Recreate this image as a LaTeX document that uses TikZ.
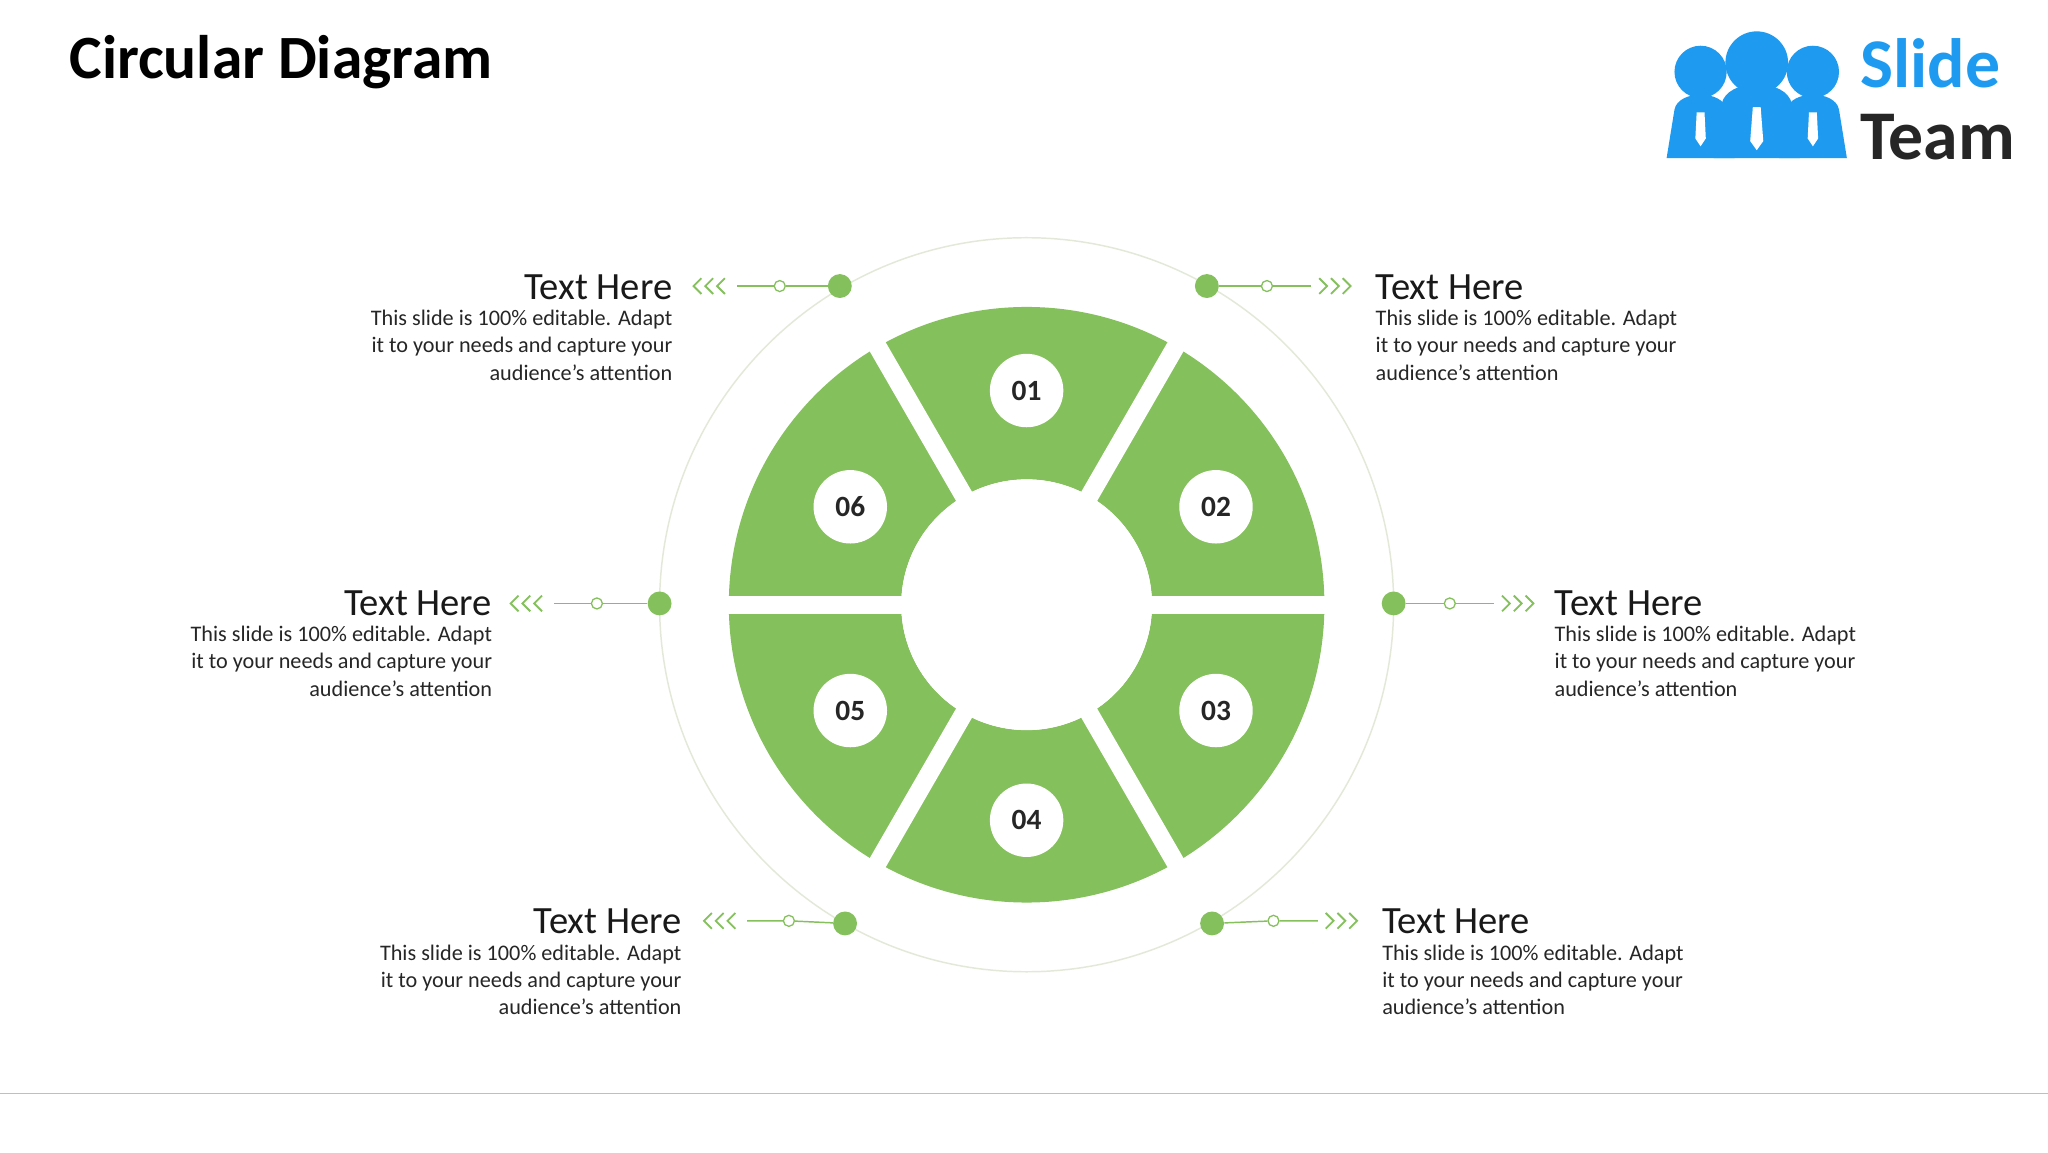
\documentclass[tikz,border=0pt]{standalone}
\usepackage{fontspec}
\usetikzlibrary{calc}
\setmainfont{Carlito}
\definecolor{gr}{HTML}{84C05B}
\definecolor{ring}{HTML}{E3E9D8}
\definecolor{sb}{HTML}{1E9BF0}
\tikzset{
 head/.style={font=\fontsize{21}{24}\selectfont, text=black!90, inner sep=0},
 bodyl/.style={font=\fontsize{12.1}{14}\selectfont, text=black!85, inner sep=0},
 num/.style={circle, fill=white, minimum size=40pt, inner sep=0, font=\fontsize{16}{18}\selectfont\bfseries, text=black!85},
 dot/.style={circle, fill=gr, minimum size=13pt, inner sep=0},
 odot/.style={circle, draw=gr, fill=white, line width=0.7pt, minimum size=6pt, inner sep=0},
 conn/.style={gr, line width=0.8pt},
 chev/.style={gr, line width=1pt},
}
\newcommand{\chevs}[4]{% leftmost-tip-x y dir(1 right,-1 left) name
 \foreach \k in {0,1,2}{\draw[chev] ({#1+\k*9-6*#3},{#2-6}) -- ({#1+\k*9},{#2}) -- ({#1+\k*9-6*#3},{#2+6});}
 \coordinate (#4) at (#1,#2);}
\newcommand{\bodytxt}[4]{% x y anchor name
 \node[bodyl, anchor=#3] (#4a) at (#1,#2) {This slide is 100\% editable. Adapt};
 \node[bodyl, anchor=#3] (#4b) at (#1,{#2+21}) {it to your needs and capture your};
 \node[bodyl, anchor=#3] (#4c) at (#1,{#2+42}) {audience's attention};}
\begin{document}
\begin{tikzpicture}[x=0.25mm,y=-0.25mm]
\useasboundingbox (0,0) rectangle (1568,882);
\fill[white] (0,0) rectangle (1568,882);
\node[anchor=base west, inner sep=0, font=\fontsize{33.5}{36}\selectfont\bfseries] (title) at (53,60) {Circular Diagram};
% logo
\begin{scope}[sb]
 \fill (1302,55) circle (20);
 \fill (1388,55) circle (20);
 \fill (1345,48) circle (24);
 \fill (1276,121) -- (1282,84) to[out=80,in=100] (1322,84) -- (1328,121) -- cycle;
 \fill (1362,121) -- (1368,84) to[out=80,in=100] (1408,84) -- (1414,121) -- cycle;
 \fill (1312,121) -- (1318,80) to[out=80,in=100] (1372,80) -- (1378,121) -- cycle;
 \fill[white] (1299,86) -- (1305,86) -- (1306,106) -- (1302,112) -- (1298,106) -- cycle;
 \fill[white] (1385,86) -- (1391,86) -- (1392,106) -- (1388,112) -- (1384,106) -- cycle;
 \fill[white] (1342,82) -- (1348,82) -- (1350,108) -- (1345,115) -- (1340,108) -- cycle;
\end{scope}
\node[anchor=base west, inner sep=0, font=\fontsize{38}{40}\selectfont\bfseries, text=sb] (slide) at (1424,67) {Slide};
\node[anchor=base west, inner sep=0, font=\fontsize{38}{40}\selectfont\bfseries, text=black!85] (team) at (1424,122) {Team};
% bottom line
\draw[black!25, line width=0.6pt] (0,837) -- (1568,837);
% ring
\coordinate (c) at (786,463);
\draw[ring, line width=0.8pt] (c) circle (281);
\fill[gr, even odd rule] (c) circle (228) (c) circle (96);
\foreach \a in {0,60,...,300} \draw[white, line width=10pt] (c) -- ++(\a:240);
\fill[white] (c) circle (96);
\node[num] (n1) at (786,299) {01};
\node[num] (n2) at (931,388) {02};
\node[num] (n3) at (931,544) {03};
\node[num] (n4) at (786,628) {04};
\node[num] (n5) at (651,544) {05};
\node[num] (n6) at (651,388) {06};
% upper left
\node[dot] (d1) at (643,219) {}; \node[odot] (o1) at (597,219) {}; \chevs{531}{219}{-1}{e1}
\draw[conn] (d1) -- (o1) -- (564,219);
\node[head, anchor=base east] (h1) at (515,229) {Text Here}; \bodytxt{515}{249}{base east}{b1}
% upper right
\node[dot] (d2) at (924,219) {}; \node[odot] (o2) at (970,219) {}; \chevs{1016}{219}{1}{e2}
\draw[conn] (d2) -- (o2) -- (1004,219);
\node[head, anchor=base west] (h2) at (1053,229) {Text Here}; \bodytxt{1053}{249}{base west}{b2}
% mid left
\node[dot] (d3) at (505,462) {}; \node[odot] (o3) at (457,462) {}; \chevs{391}{462}{-1}{e3}
\draw[conn] (d3) -- (o3) -- (424,462);
\node[head, anchor=base east] (h3) at (377,471) {Text Here}; \bodytxt{377}{491}{base east}{b3}
% mid right
\node[dot] (d4) at (1067,462) {}; \node[odot] (o4) at (1110,462) {}; \chevs{1156}{462}{1}{e4}
\draw[conn] (d4) -- (o4) -- (1144,462);
\node[head, anchor=base west] (h4) at (1190,471) {Text Here}; \bodytxt{1190}{491}{base west}{b4}
% lower left
\node[dot] (d5) at (647,707) {}; \node[odot] (o5) at (604,705) {}; \chevs{539}{705}{-1}{e5}
\draw[conn] (d5) -- (o5) -- (572,705);
\node[head, anchor=base east] (h5) at (522,715) {Text Here}; \bodytxt{522}{735}{base east}{b5}
% lower right
\node[dot] (d6) at (928,707) {}; \node[odot] (o6) at (975,705) {}; \chevs{1021}{705}{1}{e6}
\draw[conn] (d6) -- (o6) -- (1009,705);
\node[head, anchor=base west] (h6) at (1058,715) {Text Here}; \bodytxt{1058}{735}{base west}{b6}
\end{tikzpicture}
\end{document}
